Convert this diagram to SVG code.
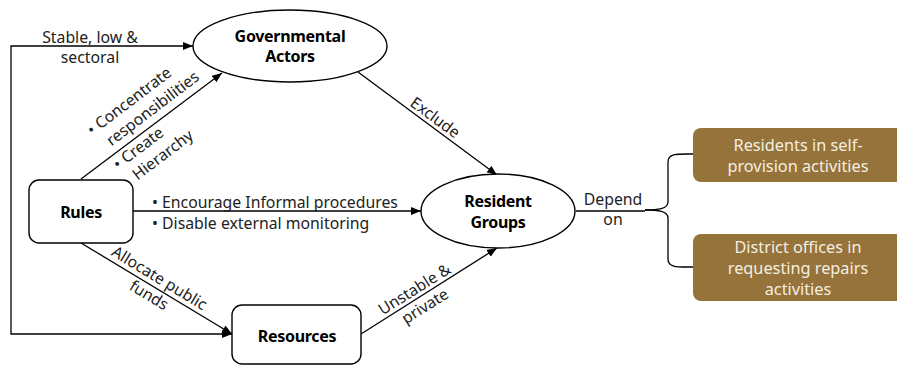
<svg xmlns="http://www.w3.org/2000/svg" width="897" height="366" viewBox="0 0 897 366">
<defs>
<marker id="arr" markerUnits="userSpaceOnUse" markerWidth="11" markerHeight="9" refX="10" refY="4" orient="auto">
<path d="M0,0 L10,4 L0,8 z" fill="#000"/>
</marker>
<marker id="arrS" markerUnits="userSpaceOnUse" markerWidth="11" markerHeight="9" refX="0" refY="4" orient="auto">
<path d="M10,0 L0,4 L10,8 z" fill="#000"/>
</marker>
<style>
.node{fill:#fff;stroke:#000;stroke-width:1.4}
.brown{fill:#95733a;stroke:none}
.title{font-family:"Noto Sans","Open Sans",sans-serif;font-weight:bold;font-size:16px;fill:#000;text-anchor:middle;letter-spacing:-0.3px}
.lbl{font-family:"Noto Sans","Open Sans",sans-serif;font-size:15.8px;fill:#222}
.mid{text-anchor:middle}
.wt{font-family:"Noto Sans","Open Sans",sans-serif;font-size:16.3px;fill:#f4efe2;text-anchor:middle}
.con{fill:none;stroke:#000;stroke-width:1.3}
</style>
</defs>
<rect width="897" height="366" fill="#fff"/>

<g id="connectors">
<path class="con" d="M193,46 H11 V334 H232" marker-end="url(#arr)" marker-start="url(#arrS)"/>
<path class="con" d="M81,179 L222,73" marker-end="url(#arr)"/>
<path class="con" d="M133,211 L421,211" marker-end="url(#arr)"/>
<path class="con" d="M81,243 L232,334" marker-end="url(#arr)"/>
<path class="con" d="M358,72 L497,175" marker-end="url(#arr)"/>
<path class="con" d="M361,334 L497,248" marker-end="url(#arr)"/>
<path class="con" d="M576,211 H645"/>
<path class="con" d="M693,154 C678,154 668,153 668,162 V202 C668,209 658,210 645,210"/>
<path class="con" d="M693,267 C678,267 668,268 668,259 V218 C668,211 658,210 645,210"/>
</g>

<g id="labels">
<text class="lbl mid" x="90" y="43">Stable, low &amp;</text>
<text class="lbl mid" x="90" y="63">sectoral</text>
<g transform="translate(150,126) rotate(-37.2)">
<text class="lbl" x="-52" y="-27">• Concentrate</text>
<text class="lbl" x="-43" y="-7">responsibilities</text>
<text class="lbl" x="-52" y="16">• Create</text>
<text class="lbl" x="-43" y="36">Hierarchy</text>
</g>
<text class="lbl" x="152" y="208">• Encourage Informal procedures</text>
<text class="lbl" x="152" y="229">• Disable external monitoring</text>
<g transform="translate(154,287) rotate(31.1)">
<text class="lbl mid" x="0" y="-5">Allocate public</text>
<text class="lbl mid" x="0" y="15">funds</text>
</g>
<g transform="translate(429,126) rotate(36.5)">
<text class="lbl mid" x="0" y="-5">Exclude</text>
</g>
<g transform="translate(420,298) rotate(-32.1)">
<text class="lbl mid" x="0" y="-5">Unstable &amp;</text>
<text class="lbl mid" x="0" y="15">private</text>
</g>
<text class="lbl mid" x="613" y="205">Depend</text>
<text class="lbl mid" x="613" y="225">on</text>
</g>

<g id="gov">
<ellipse class="node" cx="290" cy="46" rx="97" ry="36"/>
<text class="title" x="290" y="42">Governmental</text>
<text class="title" x="290" y="62">Actors</text>
</g>
<g id="rules">
<rect class="node" x="29" y="180" width="104" height="63" rx="10"/>
<text class="title" x="81" y="218">Rules</text>
</g>
<g id="resources">
<rect class="node" x="232" y="305" width="129" height="59" rx="10"/>
<text class="title" x="297" y="342">Resources</text>
</g>
<g id="resident">
<ellipse class="node" cx="498" cy="211" rx="77" ry="37"/>
<text class="title" x="498" y="207">Resident</text>
<text class="title" x="498" y="228">Groups</text>
</g>
<g id="self">
<rect class="brown" x="693" y="128" width="212" height="54" rx="8"/>
<text class="wt" x="798" y="151">Residents in self-</text>
<text class="wt" x="798" y="172">provision activities</text>
</g>
<g id="district">
<rect class="brown" x="693" y="234" width="212" height="67" rx="8"/>
<text class="wt" x="798" y="253">District offices in</text>
<text class="wt" x="798" y="274">requesting repairs</text>
<text class="wt" x="798" y="295">activities</text>
</g>
</svg>
